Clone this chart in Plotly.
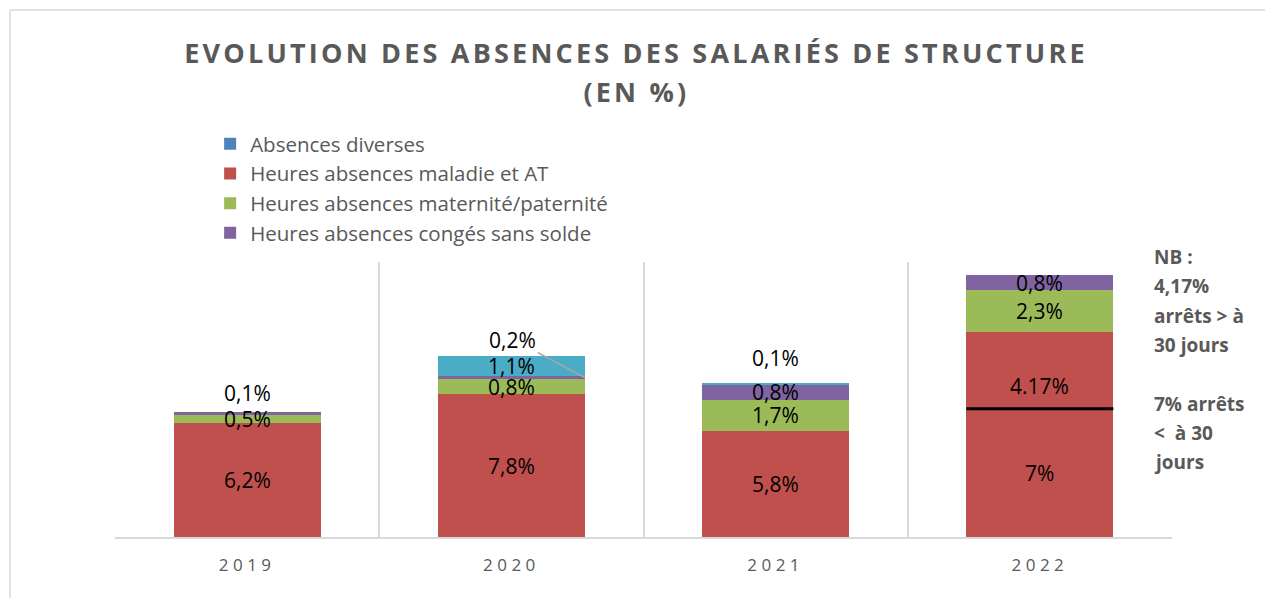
import plotly.graph_objects as go

# ---------------- data ----------------
years = ["2019", "2020", "2021", "2022"]
absences_diverses = [0, 0, 0, 0]
maladie = [6.2, 7.8, 5.8, 7.0]          # 2022: arrêts < à 30 jours
maladie_sup30 = [0, 0, 0, 4.17]         # 2022: arrêts > à 30 jours
maternite = [0.5, 0.8, 1.7, 2.3]
conges = [0.1, 0.2, 0.8, 0.8]
autres = [0, 1.1, 0.1, 0]

maladie_labels = ["6,2%", "7,8%", "5,8%", "7%"]
maladie_sup30_labels = [None, None, None, "4.17%"]
maternite_labels = ["0,5%", "0,8%", "1,7%", "2,3%"]
conges_labels = ["0,1%", "0,2%", "0,8%", "0,8%"]
autres_labels = [None, "1,1%", "0,1%", None]

title_l1 = "EVOLUTION DES ABSENCES DES SALARIÉS DE STRUCTURE"
title_l2 = "(EN %)"
nb_lines = ["NB :", "4,17%", "arrêts > à", "30 jours", "", "7% arrêts", "<  à 30", "jours"]

# ---------------- style ----------------
BLUE, RED, GREEN, PURPLE, TEAL = "#4F81BD", "#C0504D", "#9BBB59", "#8064A2", "#4BACC6"
GRAY_TXT = "#595959"
GRID = "#d9d9d9"
FONT = "Open Sans"
BARGAP = 0.444
HALF = (1 - BARGAP) / 2
PLOT_TOP, PLOT_BOTTOM = 262, 537
PLOT_H = PLOT_BOTTOM - PLOT_TOP


def py(px):
    """pixel row -> paper y"""
    return (PLOT_BOTTOM - px) / PLOT_H


series = [
    ("Absences diverses", absences_diverses, BLUE, None, True),
    ("Heures absences maladie et AT", maladie, RED, maladie_labels, True),
    ("Heures absences maladie et AT (> 30 jours)", maladie_sup30, RED, maladie_sup30_labels, False),
    ("Heures absences maternité/paternité", maternite, GREEN, maternite_labels, True),
    ("Heures absences congés sans solde", conges, PURPLE, conges_labels, True),
    ("Autres absences", autres, TEAL, autres_labels, False),
]

fig = go.Figure()
for name, vals, color, _, show in series:
    fig.add_trace(go.Bar(
        x=years, y=vals, name=name, marker=dict(color=color, line=dict(width=0)),
        showlegend=show, hoverinfo="skip",
    ))

# labels positioned from the stacked data
annotations = []
base = [0.0] * len(years)
special_above = {("Heures absences congés sans solde", 0): 3, ("Autres absences", 2): 9}
callout = {("Heures absences congés sans solde", 1)}
label_font = dict(family=FONT, size=21, color="#000000")
for name, vals, color, labels, _ in series:
    for j, v in enumerate(vals):
        if labels and labels[j] is not None and v > 0:
            center = base[j] + v / 2
            top = base[j] + v
            if (name, j) in special_above:
                annotations.append(dict(x=j, y=top, xref="x", yref="y", text=labels[j],
                                        showarrow=False, yanchor="bottom",
                                        yshift=special_above[(name, j)], font=label_font))
            elif (name, j) in callout:
                annotations.append(dict(x=j + HALF, y=center, xref="x", yref="y", text=labels[j],
                                        showarrow=True, arrowhead=0, arrowwidth=1.5, arrowcolor="#a6a6a6",
                                        ax=-72, ay=-38, standoff=0, font=label_font))
            elif name.endswith("(> 30 jours)"):
                annotations.append(dict(x=j, y=center, xref="x", yref="y", text=labels[j],
                                        showarrow=False, yanchor="middle", yshift=-16, font=label_font))
            else:
                annotations.append(dict(x=j, y=center, xref="x", yref="y", text=labels[j],
                                        showarrow=False, yanchor="middle", font=label_font))
        base[j] += v

# title
annotations.append(dict(x=0.493, y=py(52), xref="paper", yref="paper", text="<b>" + title_l1 + "</b>",
                        showarrow=False, yanchor="middle",
                        font=dict(family=FONT, size=27, color=GRAY_TXT)))
annotations.append(dict(x=0.493, y=py(91), xref="paper", yref="paper", text="<b>" + title_l2 + "</b>",
                        showarrow=False, yanchor="middle",
                        font=dict(family=FONT, size=27, color=GRAY_TXT)))

# NB note
for k, line in enumerate(nb_lines):
    if line:
        annotations.append(dict(x=(1152 - 115) / 1057, y=py(257 + k * 29.3), xref="paper", yref="paper",
                                text="<b>" + line + "</b>", showarrow=False, xanchor="left",
                                yanchor="middle",
                                font=dict(family=FONT, size=19, color=GRAY_TXT)))

shapes = [
    # black separator in the 2022 maladie bar (< 30 j / > 30 j)
    dict(type="line", xref="x", yref="y", x0=3 - HALF, x1=3 + HALF, y0=maladie[3], y1=maladie[3],
         line=dict(color="black", width=3)),
    # outer chart frame
    dict(type="line", xref="paper", yref="paper", x0=-0.0993, x1=-0.0993, y0=-0.5, y1=py(10),
         line=dict(color=GRID, width=1.5)),
    dict(type="line", xref="paper", yref="paper", x0=-0.0993, x1=1.2, y0=py(10), y1=py(10),
         line=dict(color=GRID, width=1.5)),
]

fig.update_layout(
    width=1265, height=598,
    margin=dict(l=115, r=93, t=PLOT_TOP, b=598 - PLOT_BOTTOM, autoexpand=False),
    paper_bgcolor="white", plot_bgcolor="white",
    barmode="stack", bargap=BARGAP,
    font=dict(family=FONT, color=GRAY_TXT),
    legend=dict(x=0.09, y=py(124), xanchor="left", yanchor="top", traceorder="normal",
                font=dict(family=FONT, size=20.5, color=GRAY_TXT), bgcolor="rgba(0,0,0,0)"),
    xaxis=dict(type="category", range=[-0.5, 3.5], tickson="boundaries", showgrid=True,
               gridcolor=GRID, gridwidth=1.5, showline=True, linecolor=GRID, linewidth=1.5,
               ticks="", ticklabelstandoff=12,
               tickfont=dict(family=FONT, size=17, color=GRAY_TXT), fixedrange=True),
    yaxis=dict(range=[0, 15], visible=False, fixedrange=True),
    annotations=annotations, shapes=shapes,
)

post = """
document.body.style.margin='0';
var gd=document.getElementById('{plot_id}');
gd.querySelectorAll('.annotation-text').forEach(function(e){
  if(e.textContent.indexOf('EVOLUTION')===0 || e.textContent==='(EN %)'){e.style.letterSpacing='3.2px';}
});
gd.querySelectorAll('.xtick text').forEach(function(e){e.style.letterSpacing='4.5px';});
"""

fig.write_html("out.html", config={"displayModeBar": False}, post_script=post)
